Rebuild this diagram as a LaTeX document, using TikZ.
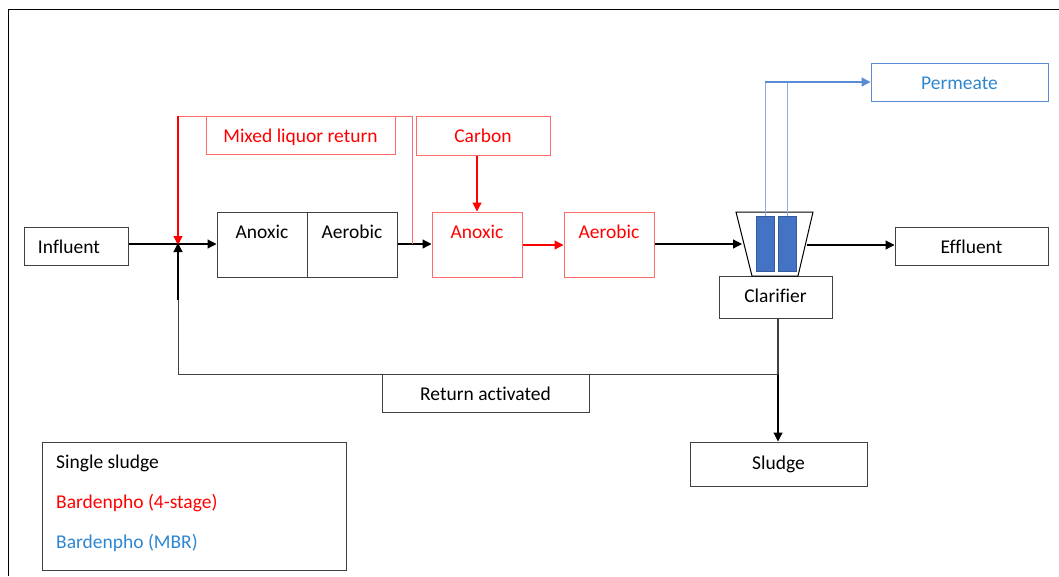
\documentclass[tikz,border=0pt]{standalone}
\usepackage{fontspec}
\setmainfont[Ligatures=NoCommon]{Carlito}
\usetikzlibrary{arrows.meta}
\definecolor{dk}{HTML}{404040}
\definecolor{lred}{HTML}{FF6B6B}
\definecolor{bluetxt}{HTML}{2E86D0}
\definecolor{bluefill}{HTML}{4472C4}
\definecolor{bluebox}{HTML}{5B8BD6}
\definecolor{blueline}{HTML}{8FAADC}
\tikzset{
  fnt/.style={font=\fontsize{19.5}{22}\selectfont},
  box/.style={draw=dk, line width=1pt, inner sep=0pt, fnt, text=black},
  rbox/.style={draw=lred, line width=1pt, inner sep=0pt, fnt, text=red},
  bbox/.style={draw=bluebox, line width=1pt, inner sep=0pt, fnt, text=bluetxt},
  lbl/.style={inner sep=0pt, fnt, anchor=base},
  arr/.style={-{Triangle[width=9pt,length=9pt]}},
  flow/.style={line width=1.2pt, draw=black},
}
\begin{document}
\begin{tikzpicture}[x=1pt,y=-1pt]
\useasboundingbox (0,0) rectangle (1059,576);
% outer frame
\draw[line width=1pt, draw=black] (8,576) -- (8,9) -- (1059,9);

% boxes
\node[box, minimum width=104pt, minimum height=38pt] (infl) at (76,246) {};
\node[lbl] (inflt) at (69,253) {Influent};
\node[box, minimum width=90pt, minimum height=65pt] (anx1) at (262,244.5) {};
\node[box, minimum width=90pt, minimum height=65pt] (aer1) at (352,244.5) {};
\node[lbl] (anx1t) at (262,238) {Anoxic};
\node[lbl] (aer1t) at (352,238) {Aerobic};
\node[rbox, minimum width=189pt, minimum height=38pt] (mlr) at (300.5,135) {};
\node[lbl, text=red] (mlrt) at (300.5,142) {Mixed liquor return};
\node[rbox, minimum width=134pt, minimum height=39pt] (carb) at (483,135.5) {};
\node[lbl, text=red] (carbt) at (483,142) {Carbon};
\node[rbox, minimum width=90pt, minimum height=65pt] (anx2) at (477,244.5) {};
\node[rbox, minimum width=90pt, minimum height=65pt] (aer2) at (609,244.5) {};
\node[lbl, text=red] (anx2t) at (477,238) {Anoxic};
\node[lbl, text=red] (aer2t) at (609,238) {Aerobic};
\node[box, minimum width=113pt, minimum height=42pt] (clar) at (775.5,297) {};
\node[lbl] (clart) at (775.5,302) {Clarifier};
\node[box, minimum width=153pt, minimum height=38pt] (effl) at (971.5,246) {};
\node[lbl] (efflt) at (971.5,253) {Effluent};
\node[bbox, minimum width=177pt, minimum height=38pt] (perm) at (959.5,82) {};
\node[lbl, text=bluetxt] (permt) at (959.5,89) {Permeate};
\node[box, minimum width=207pt, minimum height=38pt] (ras) at (485.5,393) {};
\node[lbl] (rast) at (485.5,400) {Return activated};
\node[box, minimum width=177pt, minimum height=44pt] (sludge) at (778.5,464) {};
\node[lbl] (sludget) at (778.5,469) {Sludge};
\node[box, minimum width=304pt, minimum height=128pt] (legend) at (194,506) {};
\node[lbl, anchor=base west] (lg1) at (56,468) {Single sludge};
\node[lbl, anchor=base west, text=red] (lg2) at (56,508) {Bardenpho (4-stage)};
\node[lbl, anchor=base west, text=bluetxt] (lg3) at (56,548) {Bardenpho (MBR)};

% clarifier trapezoid and membranes
\draw[line width=1pt, draw=black] (736,212) -- (813,212) -- (798,276) -- (752,276) -- cycle;
\node[fill=bluefill, draw=bluefill!80!black, line width=0.4pt, minimum width=18pt, minimum height=55pt, inner sep=0pt] (mem1) at (765,243.5) {};
\node[fill=bluefill, draw=bluefill!80!black, line width=0.4pt, minimum width=18pt, minimum height=55pt, inner sep=0pt] (mem2) at (787,243.5) {};
\coordinate (trapL) at (742,244);
\coordinate (trapR) at (807,245);

% junction
\coordinate (jn) at (178,244);
\coordinate (mlrTL) at (178,116);
\coordinate (mlrTR) at (412,116);
\coordinate (mlrB) at (412,244);

% main flow
\draw[flow] (infl.east |- jn) -- (jn);
\draw[flow, arr] (jn) -- (anx1.west |- jn);
\draw[flow, arr] (aer1.east |- jn) -- (anx2.west |- jn);
\draw[line width=1.2pt, draw=red, arr] (anx2.east |- 0,245) -- (aer2.west |- 0,245);
\draw[flow, arr] (aer2.east |- trapL) -- (trapL);
\draw[flow, arr] (trapR) -- (effl.west |- trapR);

% mixed liquor return
\draw[line width=1pt, draw=lred] (mlrB) -- (mlrTR) -- (mlrTL);
\draw[line width=1.2pt, draw=red, arr] (mlrTL) -- ([yshift=-1pt]jn);

% carbon
\draw[line width=1.2pt, draw=red, arr] (carb.south -| anx2) -- (anx2.north);

% permeate
\coordinate (pL) at (765,82);
\coordinate (pR) at (787,82);
\draw[line width=1pt, draw=blueline] (mem1.north) -- (pL);
\draw[line width=1pt, draw=blueline] (mem2.north) -- (pR);
\draw[line width=1.2pt, draw=bluebox, arr] (pL) -- (perm.west);

% sludge and return
\coordinate (rj) at (778,374);
\draw[flow, draw=dk] (clar.south -| rj) -- (rj);
\draw[flow, arr] (rj) -- (sludge.north -| rj);
\draw[line width=1pt, draw=dk] (rj) -- (178,374) -- (178,300);
\draw[flow, arr] (178,300) -- ([yshift=1pt]jn);
\end{tikzpicture}
\end{document}
